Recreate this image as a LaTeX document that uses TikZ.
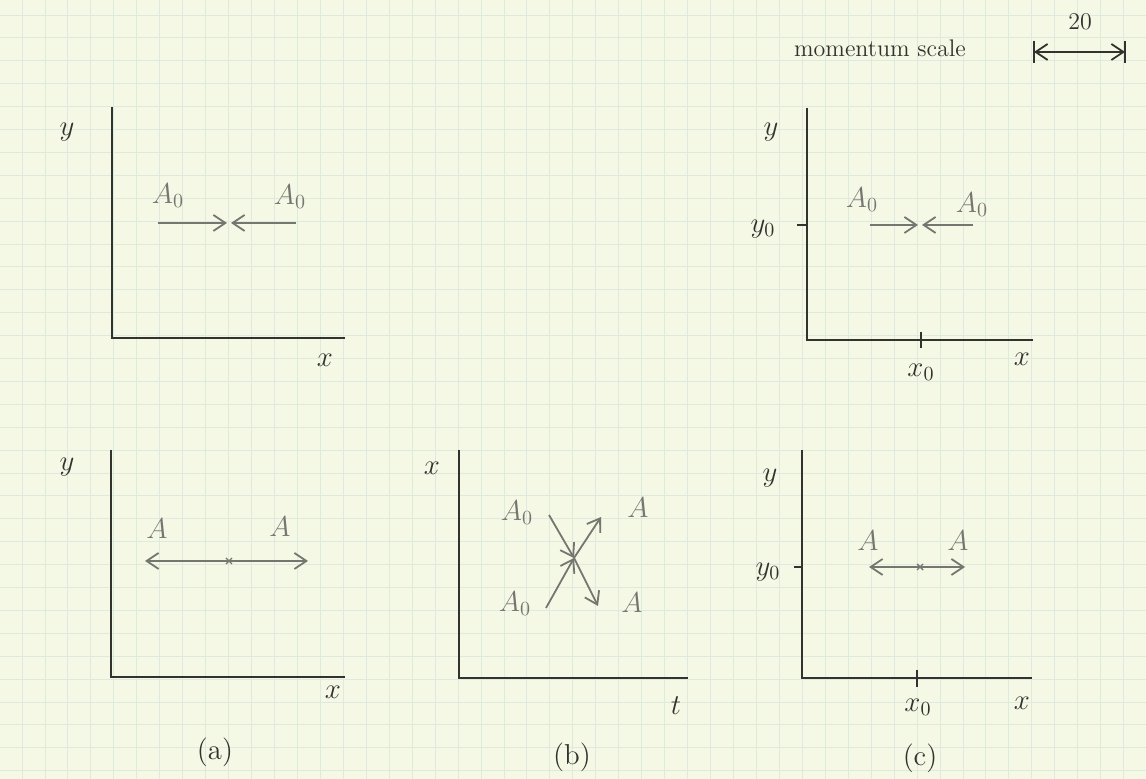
\documentclass[tikz,border=0pt]{standalone}
\usepackage{amsmath,amssymb}
\usetikzlibrary{arrows.meta}
\definecolor{paper}{RGB}{245,248,229}
\definecolor{gridcol}{RGB}{222,234,222}
\definecolor{pencil}{RGB}{50,50,46}
\definecolor{lead}{RGB}{118,118,112}

\begin{document}
\begin{tikzpicture}[x=0.5pt, y=-0.5pt, every node/.style={font=\Large, text=pencil}, >={Straight Barb[length=6pt,width=8pt]},
	axis/.style={pencil, line width=1.2pt},
	mom/.style={lead, line width=0.9pt},
	faint/.style={text=lead},
	gridline/.style={gridcol, line width=0.45pt}]
	\fill[paper] (0,0) rectangle (1146,779);
	\useasboundingbox (0,0) rectangle (1146,779);
	\foreach \i in {0,...,48} \draw[gridline] ({22+22.95*\i},0) -- ({22+22.95*\i},779);
	\foreach \j in {0,...,33} \draw[gridline] (0,{15+22.9*\j}) -- (1146,{15+22.9*\j});
	% momentum scale
	\node[font=\large] (scale) at (880,48) {momentum scale};
	\node[font=\large] (twenty) at (1080,22) {20};
	\coordinate (sL) at (1034,52);
	\coordinate (sR) at (1125,52);
	\draw[axis, line width=0.9pt] (1034,41) -- (1034,63);
	\draw[axis, line width=0.9pt] (1125,41) -- (1125,63);
	\draw[axis, line width=0.9pt, <->] (sL) -- (sR);
	% top left
	\draw[axis] (112,107) -- (112,338) -- (345,338);
	\node (yA1) at (67,132) {$y$};
	\node (xA1) at (325,360) {$x$};
	\node[faint] (a0L) at (168,196) {$A_0$};
	\node[faint] (a0R) at (290,197) {$A_0$};
	\coordinate (inL) at (158,223);
	\coordinate (inR) at (296,223);
	\coordinate (mid1) at (229,223);
	\draw[mom, ->] (inL) -- ([xshift=-1]mid1);
	\draw[mom, ->] (inR) -- ([xshift=1]mid1);
	% (a)
	\draw[axis] (111,450) -- (111,677) -- (345,677);
	\node (yA2) at (67,467) {$y$};
	\node (xA2) at (333,692) {$x$};
	\node[faint] (aL) at (157,529) {$A$};
	\node[faint] (aR) at (280,527) {$A$};
	\coordinate (outL) at (145,561);
	\coordinate (outR) at (308,561);
	\draw[mom, <->] (outL) -- (outR);
	\draw[mom, line width=0.7pt] (226,558) -- (232,564) (226,564) -- (232,558);
	\node (capA) at (215,752) {(a)};
	% (b)
	\draw[axis] (459,450) -- (459,678) -- (688,678);
	\node (xB) at (432,468) {$x$};
	\node (tB) at (676,706) {$t$};
	\node[faint] (b0U) at (517,513) {$A_0$};
	\node[faint] (b0D) at (515,604) {$A_0$};
	\node[faint] (bU) at (638,508) {$A$};
	\node[faint] (bD) at (632,603) {$A$};
	\coordinate (cross) at (574,558);
	\coordinate (fromU) at (549,515);
	\coordinate (toD) at (598,606);
	\coordinate (fromD) at (546,608);
	\coordinate (toU) at (601,517);
	\draw[mom, ->] (fromU) -- (cross);
	\draw[mom, ->] (cross) -- (toD);
	\draw[mom, ->] (fromD) -- (cross);
	\draw[mom, ->] (cross) -- (toU);
	\node (capB) at (572,757) {(b)};
	% top right
	\draw[axis] (807,108) -- (807,340) -- (1033,340);
	\draw[axis, line width=0.8pt] (797,225) -- (807,225);
	\draw[axis, line width=0.8pt] (921,332) -- (921,348);
	\node (yC1) at (771,132) {$y$};
	\node (y0C1) at (763,229) {$y_0$};
	\node (x0C1) at (921,372) {$x_0$};
	\node (xC1) at (1022,359) {$x$};
	\node[faint] (c0L) at (862,200) {$A_0$};
	\node[faint] (c0R) at (972,205) {$A_0$};
	\coordinate (cinL) at (870,225);
	\coordinate (cinR) at (973,225);
	\coordinate (mid3) at (920,225);
	\draw[mom, ->] (cinL) -- ([xshift=-1]mid3);
	\draw[mom, ->] (cinR) -- ([xshift=1]mid3);
	% (c)
	\draw[axis] (802,450) -- (802,678) -- (1032,678);
	\draw[axis, line width=0.8pt] (794,567) -- (802,567);
	\draw[axis, line width=0.8pt] (917,670) -- (917,687);
	\node (yC2) at (770,478) {$y$};
	\node (y0C2) at (768,572) {$y_0$};
	\node (x0C2) at (918,707) {$x_0$};
	\node (xC2) at (1022,703) {$x$};
	\node[faint] (cL) at (868,541) {$A$};
	\node[faint] (cR) at (958,541) {$A$};
	\coordinate (coutL) at (869,567);
	\coordinate (coutR) at (965,567);
	\draw[mom, <->] (coutL) -- (coutR);
	\draw[mom, line width=0.7pt] (917,564) -- (923,570) (917,570) -- (923,564);
	\node (capC) at (920,758) {(c)};
\end{tikzpicture}
\end{document}
